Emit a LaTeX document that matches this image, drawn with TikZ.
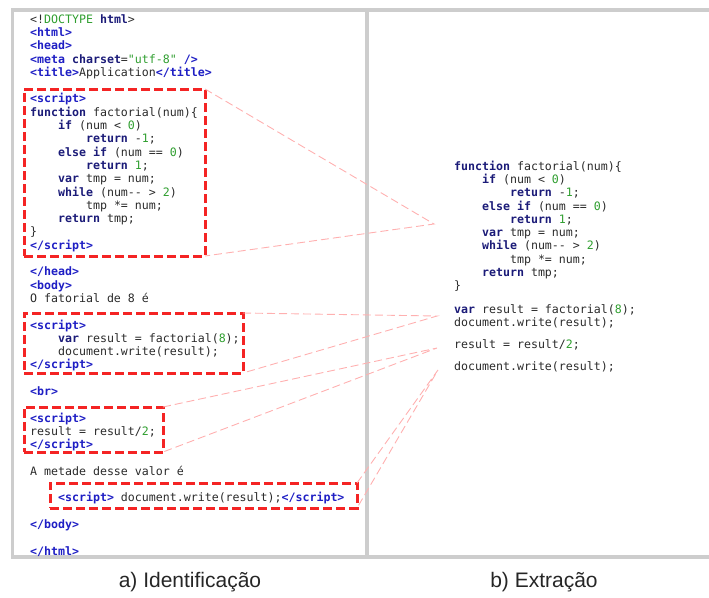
\documentclass[tikz,border=0pt]{standalone}
\usepackage{fontspec}
\setmainfont{Liberation Sans}
\newfontfamily\codefont{DejaVu Sans Mono}
\definecolor{tagblue}{HTML}{1E1EC4}
\definecolor{kwnavy}{HTML}{1B1B78}
\definecolor{numgreen}{HTML}{2F9E2F}
\definecolor{plain}{HTML}{2A2A2A}
\definecolor{framegray}{HTML}{CDCDCD}
\definecolor{snipred}{HTML}{F42424}
\definecolor{linkpink}{HTML}{FFB0B0}
% syntax colouring
\newcommand\tg[1]{\textbf{\color{tagblue}#1}}
\newcommand\kw[1]{\textbf{\color{kwnavy}#1}}
\newcommand\nm[1]{{\color{numgreen}#1}}
\newcommand\ind{\hphantom{0000}}
\begin{document}
\begin{tikzpicture}[x=1pt,y=-1pt,
    code/.style={anchor=mid west,inner sep=0pt,yshift=-2.5pt,text=plain,
      font=\codefont\fontsize{11.6}{13.3}\selectfont},
    snip/.style={draw=snipred,line width=3pt,dash pattern=on 9pt off 4pt,
      anchor=north west,inner sep=0pt,outer sep=0pt},
    link/.style={draw=linkpink,line width=0.9pt,dash pattern=on 8pt off 4pt},
    panel/.style={draw=framegray,line width=3.6pt},
    caption/.style={font=\fontsize{21}{24}\selectfont,text=black!85}]
    \useasboundingbox (0,0) rectangle (709,597);
    % the two panels
    \draw[panel] (711,10) -- (12.5,10) -- (12.5,557) -- (711,557);
    \draw[panel] (367,10) -- (367,557);
    % page source on the left
    \node[code] (l0)  at (30,18)    {<!\nm{DOCTYPE} \kw{html}>};
    \node[code] (l1)  at (30,31.3)  {\tg{<html>}};
    \node[code] (l2)  at (30,44.6)  {\tg{<head>}};
    \node[code] (l3)  at (30,57.9)  {\tg{<meta} \kw{charset}=\nm{"utf-8"} \tg{/>}};
    \node[code] (l4)  at (30,71.2)  {\tg{<title>}Application\tg{</title>}};
    \node[code] (l6)  at (30,97.8)  {\tg{<script>}};
    \node[code] (l7)  at (30,111.1) {\kw{function} factorial(num)\{};
    \node[code] (l8)  at (30,124.4) {\ind\kw{if} (num < \nm{0})};
    \node[code] (l9)  at (30,137.7) {\ind\ind\kw{return} -\nm{1};};
    \node[code] (l10) at (30,151)   {\ind\kw{else if} (num == \nm{0})};
    \node[code] (l11) at (30,164.3) {\ind\ind\kw{return} \nm{1};};
    \node[code] (l12) at (30,177.6) {\ind\kw{var} tmp = num;};
    \node[code] (l13) at (30,190.9) {\ind\kw{while} (num-{}- > \nm{2})};
    \node[code] (l14) at (30,204.2) {\ind\ind tmp *= num;};
    \node[code] (l15) at (30,217.5) {\ind\kw{return} tmp;};
    \node[code] (l16) at (30,230.8) {\}};
    \node[code] (l17) at (30,244.1) {\tg{</script>}};
    \node[code] (l19) at (30,270.7) {\tg{</head>}};
    \node[code] (l20) at (30,284)   {\tg{<body>}};
    \node[code] (l21) at (30,297.3) {O fatorial de 8 é};
    \node[code] (l23) at (30,323.9) {\tg{<script>}};
    \node[code] (l24) at (30,337.2) {\ind\kw{var} result = factorial(\nm{8});};
    \node[code] (l25) at (30,350.5) {\ind document.write(result);};
    \node[code] (l26) at (30,363.8) {\tg{</script>}};
    \node[code] (l28) at (30,390.4) {\tg{<br>}};
    \node[code] (l30) at (30,417)   {\tg{<script>}};
    \node[code] (l31) at (30,430.3) {result = result/\nm{2};};
    \node[code] (l32) at (30,443.6) {\tg{</script>}};
    \node[code] (l34) at (30,470.2) {A metade desse valor é};
    \node[code] (l36) at (30,496.8) {\ind\tg{<script>} document.write(result);\tg{</script>}};
    \node[code] (l38) at (30,523.4) {\tg{</body>}};
    \node[code] (l40) at (30,550)   {\tg{</html>}};
    % extracted scripts on the right
    \node[code] (r0)  at (454,165)   {\kw{function} factorial(num)\{};
    \node[code] (r1)  at (454,178.3) {\ind\kw{if} (num < \nm{0})};
    \node[code] (r2)  at (454,191.6) {\ind\ind\kw{return} -\nm{1};};
    \node[code] (r3)  at (454,204.9) {\ind\kw{else if} (num == \nm{0})};
    \node[code] (r4)  at (454,218.2) {\ind\ind\kw{return} \nm{1};};
    \node[code] (r5)  at (454,231.5) {\ind\kw{var} tmp = num;};
    \node[code] (r6)  at (454,244.8) {\ind\kw{while} (num-{}- > \nm{2})};
    \node[code] (r7)  at (454,258.1) {\ind\ind tmp *= num;};
    \node[code] (r8)  at (454,271.4) {\ind\kw{return} tmp;};
    \node[code] (r9)  at (454,284.7) {\}};
    \node[code] (r10) at (454,308)   {\kw{var} result = factorial(\nm{8});};
    \node[code] (r11) at (454,321.3) {document.write(result);};
    \node[code] (r12) at (454,343)   {result = result/\nm{2};};
    \node[code] (r13) at (454,365)   {document.write(result);};
    % script blocks found in the page
    \node[snip,minimum width=181pt,minimum height=167pt] (s1) at (24,89)  {};
    \node[snip,minimum width=219pt,minimum height=60pt]  (s2) at (24,313) {};
    \node[snip,minimum width=139pt,minimum height=45pt]  (s3) at (24,407) {};
    \node[snip,minimum width=307pt,minimum height=25pt]  (s4) at (50,483) {};
    % where each block goes
    \coordinate (t1) at (434,224);
    \coordinate (t2) at (437,316);
    \coordinate (t3) at (437,348);
    \coordinate (t4) at (438,370);
    \draw[link] (s1.north east) -- (t1) -- (s1.south east);
    \draw[link] (s2.north east) -- (t2) -- (s2.south east);
    \draw[link] (s3.north east) -- (t3) -- (s3.south east);
    \draw[link] (s4.north east) -- (t4) -- (s4.south east);
    % captions
    \node[caption] (capA) at (190,582) {a) Identificação};
    \node[caption] (capB) at (544,582) {b) Extração};
\end{tikzpicture}
\end{document}
